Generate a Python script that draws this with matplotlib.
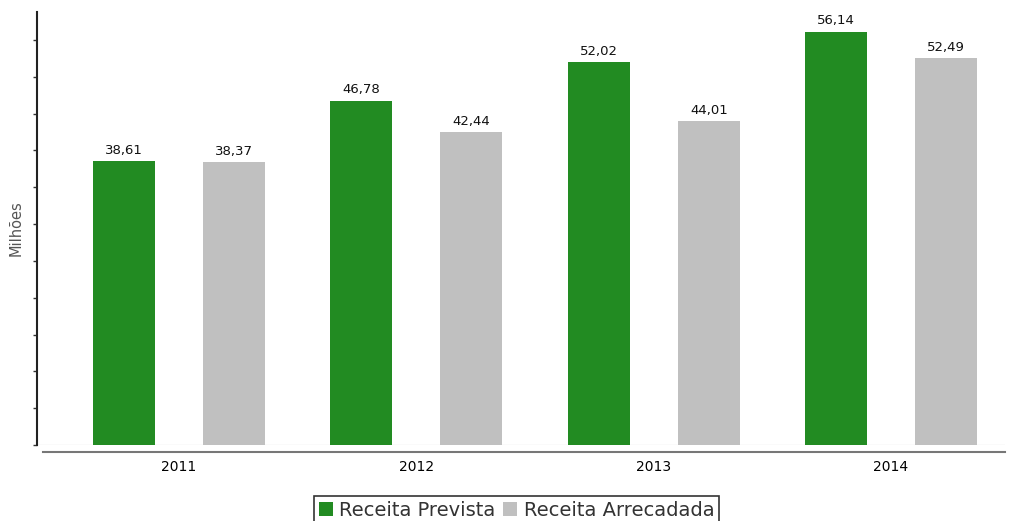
import numpy as np
import matplotlib.pyplot as plt

anos = ['2011', '2012', '2013', '2014']
prevista = [38.61, 46.78, 52.02, 56.14]
arrecadada = [38.37, 42.44, 44.01, 52.49]

VERDE = '#228B22'
CINZA = '#C0C0C0'

fig = plt.figure(figsize=(10.15, 5.21), dpi=100)
ax = fig.add_axes([37 / 1015, 76 / 521, 968 / 1015, 433 / 521])

x = np.arange(len(anos))
w = 0.261
off = 0.232
b1 = ax.bar(x - off, prevista, w, color=VERDE, label='Receita Prevista')
b2 = ax.bar(x + off, arrecadada, w, color=CINZA, label='Receita Arrecadada')

for bars, vals in ((b1, prevista), (b2, arrecadada)):
    for r, v in zip(bars, vals):
        ax.annotate(f'{v:.2f}'.replace('.', ','),
                    (r.get_x() + r.get_width() / 2, v),
                    xytext=(0, 3), textcoords='offset points',
                    ha='center', va='bottom', fontsize=9.5, color='#111111')

ax.set_xlim(-0.598, 3.48)
ax.set_ylim(0, 58.8)
ax.axhline(0, color='#e6e6e6', lw=1, zorder=0)

ax.set_xticks(x)
ax.set_xticklabels(anos, fontsize=11.5, color='#333333')
ax.tick_params(axis='x', length=0, pad=6)
ax.set_yticks(np.arange(0, 56, 5))
ax.set_yticklabels([])
ax.tick_params(axis='y', direction='out', length=3, width=1, color='#333333')

for s in ('top', 'right'):
    ax.spines[s].set_visible(False)
ax.spines['left'].set_color('#222222')
ax.spines['left'].set_linewidth(1.5)
ax.spines['bottom'].set_position(('outward', 5))
ax.spines['bottom'].set_color('#777777')
ax.spines['bottom'].set_linewidth(1.5)
ax.spines['bottom'].set_bounds(-0.573, 3.48)

ax.set_ylabel('Milhões', fontsize=10.5, color='#555555', labelpad=3)

leg = fig.legend(loc='upper center', bbox_to_anchor=(0.509, 1 - 496 / 521), ncol=2,
                 fontsize=14, frameon=True, fancybox=False, edgecolor='black',
                 handlelength=0.7, handleheight=0.7, handletextpad=0.35,
                 columnspacing=0.4, borderpad=0.25, borderaxespad=0)
leg.get_frame().set_linewidth(1.2)
for t in leg.get_texts():
    t.set_color('#333333')

fig.savefig('out.png', dpi=100)
